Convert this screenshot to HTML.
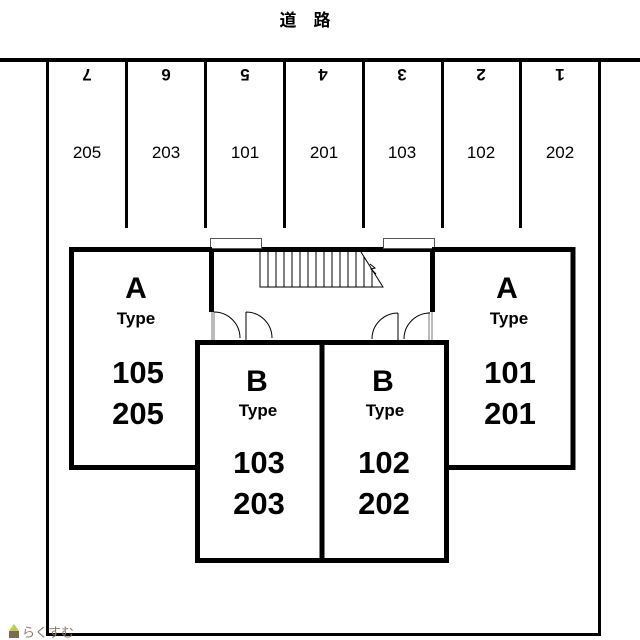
<!DOCTYPE html>
<html><head><meta charset="utf-8"><style>body{margin:0;background:#fff}svg{display:block}</style></head>
<body>
<svg width="640" height="640" viewBox="0 0 640 640" xmlns="http://www.w3.org/2000/svg" font-family="Liberation Sans, sans-serif">
<rect width="640" height="640" fill="#fff"/>
<text x="305" y="26" font-size="17" font-family="Liberation Sans, Noto Sans CJK JP, sans-serif" text-anchor="middle" font-weight="bold">道　路</text>
<!-- road line -->
<rect x="0" y="58" width="640" height="4" fill="#000"/>
<!-- outer lot -->
<rect x="46" y="60" width="3" height="576" fill="#000"/>
<rect x="598" y="60" width="3" height="576" fill="#000"/>
<rect x="46" y="633" width="555" height="3" fill="#000"/>
<!-- parking dividers -->
<g fill="#000">
<rect x="125" y="60" width="3" height="168"/>
<rect x="204" y="60" width="3" height="168"/>
<rect x="283" y="60" width="3" height="168"/>
<rect x="362" y="60" width="3" height="168"/>
<rect x="441" y="60" width="3" height="168"/>
<rect x="519" y="60" width="3" height="168"/>
</g>
<g font-size="17" font-weight="bold" text-anchor="middle">
<text transform="translate(87,69) rotate(180)">7</text>
<text transform="translate(166,69) rotate(180)">6</text>
<text transform="translate(245,69) rotate(180)">5</text>
<text transform="translate(323,69) rotate(180)">4</text>
<text transform="translate(402,69) rotate(180)">3</text>
<text transform="translate(481,69) rotate(180)">2</text>
<text transform="translate(560,69) rotate(180)">1</text>
</g>
<g font-size="17" text-anchor="middle">
<text x="87" y="158">205</text><text x="166" y="158">203</text><text x="245" y="158">101</text>
<text x="324" y="158">201</text><text x="402" y="158">103</text><text x="481" y="158">102</text><text x="560" y="158">202</text>
</g>
<!-- stair hall -->
<rect x="209" y="247" width="226" height="5" fill="#000"/>
<rect x="209" y="247" width="5" height="65" fill="#000"/>
<rect x="430" y="247" width="5" height="65" fill="#000"/>
<rect x="210.5" y="238.5" width="51" height="10" fill="#fff" stroke="#555" stroke-width="1"/>
<rect x="383.5" y="238.5" width="51" height="10" fill="#fff" stroke="#555" stroke-width="1"/>
<g stroke="#000" stroke-width="1" fill="none">
<path d="M260 252V287H383L361 252"/>
<path d="M268 252V287M276 252V287M284 252V287M292 252V287M300 252V287M308 252V287M316 252V287M324 252V287M332 252V287M340 252V287M348 252V287M356 252V287M364 257V287M372 269V287"/>
<path d="M370 264l5 4-4 1 5 5"/>
<path d="M212 312V342M214 312V342M429 312V342M432 312V342" stroke="#777"/>
<path d="M214 312A26 26 0 0 1 240 338"/>
<path d="M246 312A26 26 0 0 1 272 338M246 312V343"/>
<path d="M398 313A26 26 0 0 0 372 339M398 313V343"/>
<path d="M430 313A26 26 0 0 0 404 339"/>
</g>
<!-- units -->
<g fill="none" stroke="#000" stroke-width="5">
<path d="M197 467.5H71.5V249.5H212"/>
<path d="M432 249.5H573V467.5H447"/>
<rect x="197.5" y="342.5" width="249" height="218"/>
<path d="M322 343V560"/>
</g>
<g font-weight="bold" text-anchor="middle" fill="#000">
<text x="136" y="298" font-size="30">A</text>
<text x="136" y="324" font-size="17">Type</text>
<text x="138" y="383" font-size="31">105</text>
<text x="138" y="424" font-size="31">205</text>
<text x="507" y="298" font-size="30">A</text>
<text x="509" y="324" font-size="17">Type</text>
<text x="510" y="383" font-size="31">101</text>
<text x="510" y="424" font-size="31">201</text>
<text x="257" y="391" font-size="30">B</text>
<text x="258" y="416" font-size="17">Type</text>
<text x="259" y="473" font-size="31">103</text>
<text x="259" y="514" font-size="31">203</text>
<text x="383" y="391" font-size="30">B</text>
<text x="385" y="416" font-size="17">Type</text>
<text x="384" y="473" font-size="31">102</text>
<text x="384" y="514" font-size="31">202</text>
</g>
<polygon points="9,631 14,624 19,631" fill="#b8d040"/>
<rect x="9" y="631" width="10" height="7" fill="#7a6a5a"/>
<text x="22" y="637" font-size="13" fill="#8a7a6a" font-family="Liberation Sans, Noto Sans CJK JP, sans-serif">らくすむ</text>
</svg>
</body></html>
